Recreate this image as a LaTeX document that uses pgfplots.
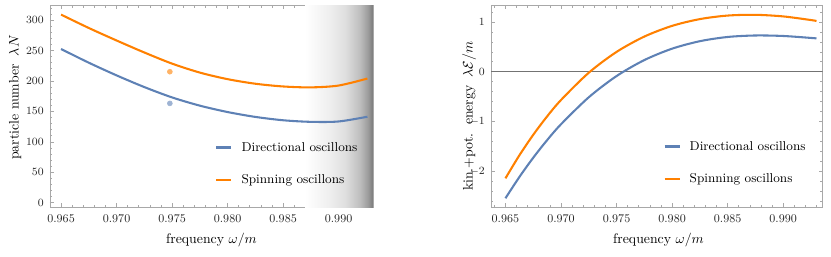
\documentclass[border=0pt]{standalone}
\usepackage{pgfplots}
\pgfplotsset{compat=1.18}
\definecolor{mblue}{HTML}{5E81B5}
\definecolor{morange}{HTML}{FF8000}
\definecolor{mframe}{HTML}{A8A8A8}
\pgfdeclarehorizontalshading{mshade}{100bp}{color(0bp)=(white); color(25bp)=(white);
  color(42bp)=(black!6); color(55bp)=(black!13); color(65bp)=(black!25);
  color(71bp)=(black!38); color(75bp)=(black!52); color(100bp)=(black!52)}
\pgfplotsset{
  mstyle/.style={
    scale only axis, height=146.3pt,
    axis line style={mframe, line width=0.6pt},
    tick pos=both, tick align=inside,
    major tick length=3pt, minor tick length=1.8pt,
    every tick/.style={mframe, line width=0.5pt},
    tick label style={font=\fontsize{8.5}{10}\selectfont, text=black!85},
    xtick={0.965,0.970,0.975,0.980,0.985,0.990},
    xticklabels={0.965,0.970,0.975,0.980,0.985,0.990},
    minor xtick={0.964,0.965,...,0.9935},
    xticklabel style={yshift=-2pt},
    yticklabel style={xshift=-1pt},
    label style={font=\fontsize{10}{12}\selectfont},
    legend cell align=left,
    legend image code/.code={\draw[##1, line width=1.6pt] (0pt,0pt) -- (10.9pt,0pt);},
    legend style={draw=none, fill=none, inner sep=0pt, row sep=15.6pt, column sep=6.5pt,
      font=\fontsize{9.3}{11}\selectfont, nodes={inner sep=0pt}},
  }
}
\begin{document}
\begin{tikzpicture}
\path[use as bounding box] (-36.2pt,-35.5pt) rectangle (565.8pt,150.0pt);
% left axis
\begin{axis}[mstyle, at={(0,0)}, anchor=south west,
  width=234.0pt,
  xmin=0.964, xmax=0.9931, ymin=-7.06, ymax=324.6,
  ytick={0,50,100,150,200,250,300},
  minor ytick={0,10,...,320},
  every axis y label/.style={at={(axis description cs:-0.108,0.542)}, rotate=90, anchor=center},
  every axis x label/.style={at={(axis description cs:0.5,-0.163)}, anchor=center},
  xlabel={frequency $\omega/m$},
  ylabel={particle number\hspace{0.6em}$\lambda N$},
  legend style={at={(axis description cs:0.511,0.323)}, anchor=north west},
]
\fill[shading=mshade]
  (axis cs:0.98698,-7.06) rectangle (axis cs:0.9931,324.6);
\addplot[mblue, line width=1.5pt, smooth] coordinates {
 (0.965,252.5) (0.9675,230) (0.970,209.2) (0.9725,190) (0.975,173) (0.9775,159.5)
 (0.980,149) (0.9825,141) (0.985,135.5) (0.9875,132.9) (0.990,133.5) (0.9926,141.3)};
\addlegendentry{Directional oscillons}
\addplot[morange, line width=1.5pt, smooth] coordinates {
 (0.965,309) (0.9675,287) (0.970,266.5) (0.9725,246.8) (0.975,228.5) (0.9775,213.8)
 (0.980,203) (0.9825,195.5) (0.985,191) (0.9875,189.5) (0.990,192.5) (0.9926,204)};
\addlegendentry{Spinning oscillons}
\addplot[only marks, mark=*, mark size=1.8pt, color=mblue!60, forget plot] coordinates {(0.9748,163.2)};
\addplot[only marks, mark=*, mark size=1.8pt, color=morange!60, forget plot] coordinates {(0.9748,215.2)};
\end{axis}
% right axis
\begin{axis}[mstyle, at={(319.5pt,0)}, anchor=south west,
  width=240.3pt,
  xmin=0.9637, xmax=0.99356, ymin=-2.717, ymax=1.339,
  ytick={-2,-1,0,1},
  minor ytick={-2.6,-2.4,...,1.3},
  every axis y label/.style={at={(axis description cs:-0.066,0.45)}, rotate=90, anchor=center},
  every axis x label/.style={at={(axis description cs:0.505,-0.163)}, anchor=center},
  xlabel={frequency $\omega/m$},
  ylabel={kin.+pot.\hspace{0.6em}energy\hspace{0.6em}$\lambda\mathcal{E}/m$},
  legend style={at={(axis description cs:0.519,0.328)}, anchor=north west},
]
\draw[black!55, line width=0.6pt] (axis cs:0.9637,0) -- (axis cs:0.99356,0);
\addplot[mblue, line width=1.5pt, smooth] coordinates {
 (0.965,-2.54) (0.96625,-2.114) (0.9675,-1.726) (0.96875,-1.373) (0.970,-1.054)
 (0.9725,-0.512) (0.975,-0.086) (0.9775,0.235) (0.980,0.464) (0.9825,0.6145)
 (0.985,0.699) (0.9875,0.729) (0.990,0.719) (0.9925,0.68) (0.993,0.67)};
\addlegendentry{Directional oscillons}
\addplot[morange, line width=1.5pt, smooth] coordinates {
 (0.965,-2.14) (0.96625,-1.679) (0.9675,-1.266) (0.96875,-0.896) (0.970,-0.567)
 (0.9725,-0.019) (0.975,0.399) (0.9775,0.707) (0.980,0.922) (0.9825,1.058)
 (0.985,1.129) (0.9875,1.144) (0.990,1.112) (0.9925,1.039) (0.993,1.02)};
\addlegendentry{Spinning oscillons}
\end{axis}
\end{tikzpicture}
\end{document}
